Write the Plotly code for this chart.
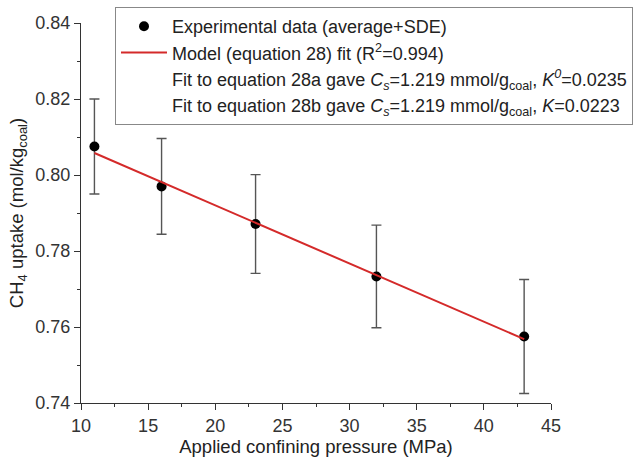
import plotly.graph_objects as go

# Data
pressure = [11, 16, 23, 32, 43]
uptake = [0.8075, 0.797, 0.7871, 0.7733, 0.7575]
sde = [0.0125, 0.0126, 0.013, 0.0135, 0.015]
fit_x = [11, 43]
fit_y = [0.8058, 0.7568]

names = [
    "Experimental data (average+SDE)",
    "Model (equation 28) fit (R<sup>2</sup>=0.994)",
    "Fit to equation 28a gave <i>C<sub>s</sub></i>=1.219 mmol/g<sub>coal</sub>, <i>K<sup>0</sup></i>=0.0235",
    "Fit to equation 28b gave <i>C<sub>s</sub></i>=1.219 mmol/g<sub>coal</sub>, <i>K</i>=0.0223",
]

FONT = "Arial, Liberation Sans, sans-serif"

fig = go.Figure()
fig.add_trace(go.Scatter(
    x=pressure, y=uptake, mode="markers", name=names[0], legendgroup="a",
    marker=dict(color="black", size=10),
    error_y=dict(type="data", array=sde, color="#555555", thickness=1.4, width=5),
))
fig.add_trace(go.Scatter(
    x=fit_x, y=fit_y, mode="lines", name=names[1], legendgroup="b",
    line=dict(color="#d42a2a", width=2),
))
for i, n in enumerate(names[2:]):
    fig.add_trace(go.Scatter(
        x=[None], y=[None], mode="lines", name=n, legendgroup="c%d" % i,
        line=dict(color="rgba(0,0,0,0)", width=0),
    ))

axis_common = dict(
    showline=True, linecolor="#333333", linewidth=1.3,
    ticks="outside", ticklen=6, tickwidth=1.3, tickcolor="#333333",
    showgrid=False, zeroline=False, mirror=False,
    tickfont=dict(family=FONT, size=18, color="#333333"),
)

fig.update_xaxes(
    range=[10, 45], tick0=10, dtick=5,
    minor=dict(ticks="outside", ticklen=3, tickwidth=1.3, tickcolor="#333333", dtick=2.5),
    title=dict(text="Applied confining pressure (MPa)", font=dict(family=FONT, size=18.5, color="#222222"), standoff=5),
    **axis_common,
)
fig.update_yaxes(
    range=[0.74, 0.84], tick0=0.74, dtick=0.02, tickformat=".2f",
    minor=dict(ticks="outside", ticklen=3, tickwidth=1.3, tickcolor="#333333", dtick=0.01),
    title=dict(text="CH<sub>4</sub> uptake (mol/kg<sub>coal</sub>)", font=dict(family=FONT, size=18.5, color="#222222"), standoff=6),
    **axis_common,
)

fig.update_layout(
    width=639, height=468,
    margin=dict(l=81, r=88, t=23, b=65, autoexpand=False),
    plot_bgcolor="white", paper_bgcolor="white",
    showlegend=True,
    legend=dict(
        x=(115 - 81) / 470, y=(403 - 7) / 380, xanchor="left", yanchor="top",
        bgcolor="white", bordercolor="#888888", borderwidth=1,
        font=dict(family=FONT, size=18, color="#222222"),
        tracegroupgap=0, traceorder="normal", itemwidth=46,
    ),
)

fig.write_html("out.html")
